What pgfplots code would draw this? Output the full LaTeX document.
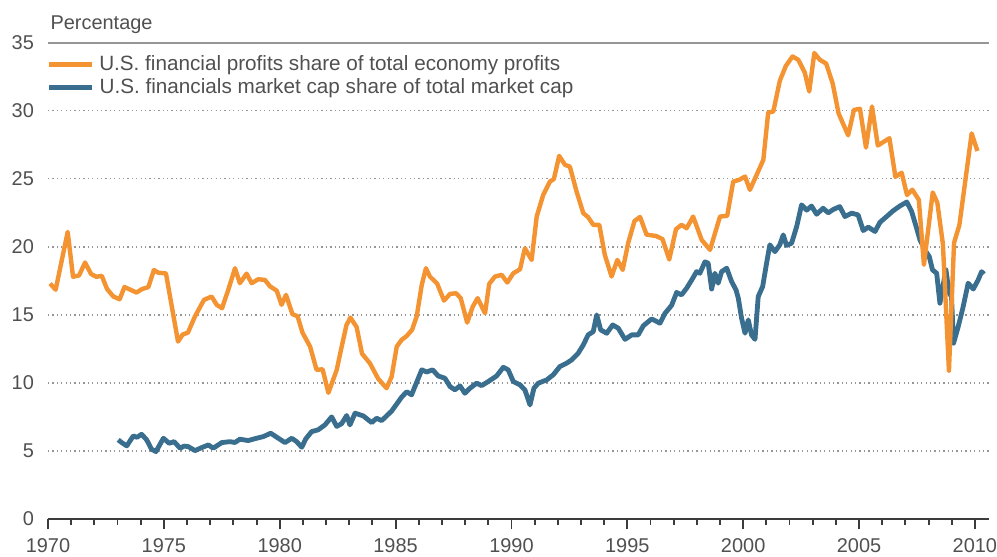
\documentclass[border=0pt]{standalone}
\usepackage{pgfplots}
\pgfplotsset{compat=1.18}
\usepackage{pgfplotstable}
\usepackage{fontspec}
\setmainfont{Liberation Sans}
\definecolor{orng}{RGB}{244,147,50}
\definecolor{blu}{RGB}{58,110,143}
\definecolor{txt}{RGB}{80,80,80}
\definecolor{axc}{RGB}{60,60,60}
\definecolor{grd}{RGB}{150,150,150}
\newcommand{\legfont}{\fontsize{9.85}{11}\selectfont}
\newcommand{\legline}[2]{\tikz[baseline=-0.55ex]\draw[#1, line width=#2] (0pt,0pt) -- (20.5pt,0pt);\hspace{2.3pt}}

\pgfplotstableread{
year val
1970.09 17.3
1970.33 16.85
1970.85 21.1
1971.08 17.8
1971.34 17.9
1971.60 18.85
1971.86 18.0
1972.09 17.8
1972.32 17.87
1972.55 16.9
1972.82 16.35
1973.09 16.15
1973.30 17.05
1973.82 16.64
1974.06 16.9
1974.33 17.04
1974.57 18.3
1974.76 18.1
1975.09 18.05
1975.61 13.04
1975.81 13.55
1976.04 13.7
1976.34 14.88
1976.73 16.1
1977.06 16.35
1977.28 15.74
1977.51 15.49
1977.79 16.9
1978.07 18.43
1978.28 17.33
1978.57 18.03
1978.79 17.33
1979.07 17.62
1979.36 17.57
1979.58 17.1
1979.87 16.78
1980.08 15.74
1980.27 16.47
1980.55 15.05
1980.77 14.9
1980.98 13.7
1981.31 12.67
1981.59 10.96
1981.85 11.0
1982.10 9.27
1982.46 10.96
1982.64 12.4
1982.88 14.25
1983.05 14.8
1983.32 14.1
1983.55 12.15
1983.89 11.45
1984.25 10.3
1984.61 9.61
1984.83 10.46
1985.05 12.67
1985.26 13.16
1985.48 13.45
1985.71 13.9
1985.91 14.88
1986.13 17.21
1986.31 18.43
1986.48 17.82
1986.80 17.28
1987.09 16.05
1987.35 16.54
1987.61 16.59
1987.81 16.23
1988.09 14.43
1988.33 15.61
1988.54 16.23
1988.86 15.12
1989.04 17.28
1989.29 17.82
1989.58 17.94
1989.82 17.38
1990.08 18.06
1990.37 18.35
1990.58 19.9
1990.87 19.04
1991.09 22.23
1991.37 23.82
1991.66 24.8
1991.83 24.98
1992.06 26.69
1992.31 26.03
1992.52 25.9
1992.81 24.07
1993.10 22.48
1993.31 22.18
1993.53 21.62
1993.79 21.62
1994.03 19.41
1994.32 17.82
1994.57 19.04
1994.80 18.31
1995.04 20.3
1995.31 21.9
1995.55 22.2
1995.83 20.9
1996.24 20.8
1996.52 20.57
1996.81 19.07
1997.10 21.3
1997.34 21.62
1997.56 21.37
1997.84 22.23
1998.21 20.51
1998.57 19.78
1999.00 22.23
1999.31 22.28
1999.57 24.8
1999.83 24.93
2000.08 25.17
2000.29 24.19
2000.58 25.29
2000.87 26.40
2001.08 29.88
2001.30 29.95
2001.58 32.2
2001.84 33.3
2002.13 34.0
2002.38 33.75
2002.66 32.8
2002.85 31.42
2003.07 34.25
2003.31 33.75
2003.58 33.48
2003.86 32.03
2004.12 29.8
2004.53 28.2
2004.78 30.07
2005.04 30.15
2005.30 27.3
2005.56 30.32
2005.81 27.45
2006.31 27.99
2006.57 25.15
2006.84 25.45
2007.07 23.82
2007.30 24.2
2007.58 23.46
2007.80 18.68
2008.18 24.0
2008.38 23.24
2008.62 20.2
2008.88 10.9
2009.10 20.3
2009.33 21.6
2009.86 28.34
2010.11 27.05
}\profits

\pgfplotstableread{
year val
1973.03 5.81
1973.19 5.6
1973.40 5.37
1973.68 6.10
1973.84 6.0
1974.04 6.22
1974.26 5.81
1974.47 5.12
1974.66 4.95
1974.98 5.93
1975.23 5.56
1975.44 5.68
1975.70 5.20
1975.87 5.35
1976.05 5.32
1976.34 5.02
1976.63 5.24
1976.92 5.44
1977.13 5.20
1977.50 5.61
1977.85 5.68
1978.07 5.62
1978.28 5.86
1978.64 5.76
1979.00 5.93
1979.29 6.05
1979.61 6.30
1979.94 5.93
1980.23 5.61
1980.52 5.93
1980.73 5.68
1980.95 5.27
1981.13 5.9
1981.38 6.42
1981.66 6.55
1981.95 6.91
1982.24 7.50
1982.46 6.80
1982.67 7.0
1982.89 7.60
1983.03 6.91
1983.25 7.77
1983.61 7.57
1983.82 7.28
1983.97 7.08
1984.18 7.40
1984.40 7.23
1984.61 7.57
1984.83 7.93
1985.05 8.45
1985.26 8.95
1985.48 9.35
1985.69 9.12
1985.91 10.05
1986.13 10.96
1986.34 10.80
1986.60 10.96
1986.84 10.51
1987.13 10.34
1987.35 9.73
1987.56 9.49
1987.78 9.78
1987.99 9.24
1988.21 9.61
1988.50 9.98
1988.71 9.80
1989.00 10.10
1989.36 10.51
1989.65 11.15
1989.86 10.96
1990.08 10.10
1990.37 9.85
1990.58 9.49
1990.80 8.38
1990.97 9.61
1991.16 9.98
1991.52 10.22
1991.80 10.59
1992.09 11.20
1992.38 11.45
1992.60 11.69
1992.88 12.18
1993.10 12.79
1993.31 13.53
1993.53 13.77
1993.68 15.0
1993.85 13.90
1994.11 13.65
1994.37 14.26
1994.61 14.02
1994.90 13.20
1995.19 13.53
1995.47 13.53
1995.69 14.20
1996.05 14.70
1996.41 14.39
1996.62 15.10
1996.91 15.70
1997.13 16.65
1997.34 16.47
1997.56 16.96
1997.78 17.57
1997.99 18.18
1998.13 18.06
1998.35 18.90
1998.49 18.80
1998.64 16.90
1998.78 18.06
1998.92 17.33
1999.07 18.18
1999.29 18.43
1999.50 17.45
1999.69 16.84
1999.79 16.23
1999.93 14.76
2000.08 13.65
2000.22 14.63
2000.36 13.53
2000.51 13.20
2000.65 16.35
2000.84 17.08
2001.01 18.80
2001.15 20.15
2001.37 19.65
2001.58 20.15
2001.73 20.88
2001.87 20.10
2002.09 20.27
2002.31 21.50
2002.52 23.09
2002.74 22.70
2002.95 23.00
2003.17 22.40
2003.45 22.84
2003.67 22.50
2003.89 22.75
2004.17 22.96
2004.39 22.23
2004.68 22.48
2004.96 22.35
2005.18 21.20
2005.40 21.45
2005.69 21.13
2005.90 21.80
2006.19 22.23
2006.47 22.65
2006.76 23.00
2007.06 23.30
2007.27 22.60
2007.48 21.40
2007.63 20.51
2007.84 19.78
2008.03 19.29
2008.17 18.31
2008.35 18.06
2008.49 15.86
2008.63 17.20
2008.75 18.31
2008.89 16.59
2008.99 16.35
2009.08 12.92
2009.28 14.14
2009.48 15.50
2009.71 17.33
2009.93 16.90
2010.14 17.57
2010.29 18.18
2010.39 18.0
}\mcap

\begin{document}
\fontsize{9.5}{11}\selectfont
\begin{tikzpicture}
\begin{axis}[
  name=ax,
  scale only axis,
  width=448pt, height=226.7pt,
  xmin=1970, xmax=2010.6,
  ymin=0, ymax=35,
  axis lines*=left,
  y axis line style={draw=none},
  x axis line style={draw=axc, line width=0.9pt},
  xtick={1970,1975,...,2010},
  minor x tick num=4,
  tick align=outside,
  major tick length=5pt,
  minor tick length=2.7pt,
  x tick style={draw=axc, line width=0.9pt},
  ytick={0,5,...,30},
  extra y ticks={35},
  extra y tick style={grid style={solid, draw=grd, line width=0.8pt}},
  ytick style={draw=none},
  ymajorgrids,
  grid style={draw=grd, line width=0.6pt, dash pattern=on 0.6pt off 1.5pt},
  /pgf/number format/assume math mode=true,
  /pgf/number format/1000 sep={},
  tick label style={text=txt},
  xticklabel style={inner sep=0pt, yshift=-4pt},
  yticklabel style={inner sep=0pt, xshift=-1.5pt},
  reverse legend,
  legend cell align=left,
  legend style={draw=none, fill=none, inner sep=0pt, outer sep=0pt,
    at={(-0.0011,0.9736)}, anchor=north west,
    row sep=2pt, column sep=0pt,
    nodes={inner sep=0pt, text height=7pt, text depth=2pt, text=txt}},
  legend image code/.code={},
]
\addplot[blu, line width=2.3pt, line join=round] table[x=year, y=val] {\mcap};
\addlegendentry{\legline{blu}{2.3pt}\legfont U.S. financials market cap share of total market cap}
\addplot[orng, line width=2.1pt, line join=round] table[x=year, y=val] {\profits};
\addlegendentry{\legline{orng}{2.1pt}\legfont U.S. financial profits share of total economy profits}
\end{axis}
\node[anchor=base west, inner sep=0pt, text=txt] at ([xshift=1pt, yshift=6.2pt]ax.north west) {Percentage};
\pgfresetboundingbox
\path[use as bounding box] (-22.86pt,-18.1pt) rectangle (451.9pt,247.1pt);
\end{tikzpicture}
\end{document}
